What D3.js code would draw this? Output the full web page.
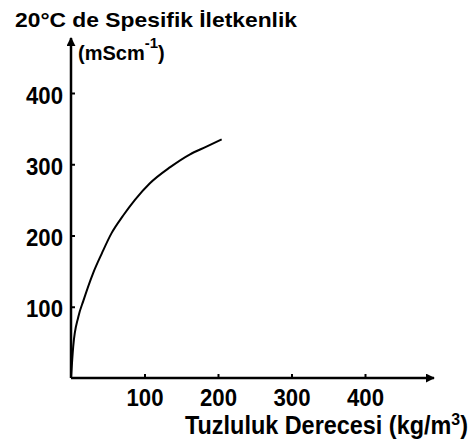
<!DOCTYPE html>
<html><head><meta charset="utf-8">
<script src="https://cdn.jsdelivr.net/npm/d3@7/dist/d3.min.js"></script>
<style>body{margin:0;background:#fff}svg{display:block}text{font-family:"Liberation Sans",Arial,sans-serif;font-weight:bold;fill:#000}</style>
</head><body><svg id="c" width="472" height="440"></svg>
<script>
const salinity = [0, 3, 10, 17, 30, 42, 55, 71, 87, 107, 135, 162, 185, 205];
const conductivity = [0, 44, 86, 109, 147, 175, 203, 228, 250, 273, 296, 314, 325, 335];
const xTicks = [100, 200, 300, 400];
const yTicks = [100, 200, 300, 400];
const titleText = "20°C de Spesifik İletkenlik";
const yUnit = "(mScm";
const xLabel = "Tuzluluk Derecesi (kg/m";

const svg = d3.select("#c");
const x = d3.scaleLinear().domain([0, 400]).range([71, 365]);
const y = d3.scaleLinear().domain([0, 400]).range([378, 93]);

const defs = svg.append("defs");
defs.append("marker").attr("id","arr").attr("viewBox","0 0 10 10").attr("refX",9).attr("refY",5)
  .attr("markerWidth",9).attr("markerHeight",9).attr("orient","auto").attr("markerUnits","userSpaceOnUse")
  .append("path").attr("d","M0,0L10,5L0,10Z").attr("fill","#000");

// axes lines with arrows
svg.append("line").attr("x1",x(0)).attr("y1",y(0)).attr("x2",x(0)).attr("y2",38)
  .attr("stroke","#000").attr("stroke-width",2.5).attr("marker-end","url(#arr)");
svg.append("line").attr("x1",x(0)).attr("y1",y(0)).attr("x2",434).attr("y2",y(0))
  .attr("stroke","#000").attr("stroke-width",2.5).attr("marker-end","url(#arr)");

const gy = svg.append("g").attr("transform",`translate(${x(0)},0)`)
  .call(d3.axisLeft(y).tickValues(yTicks).tickSizeInner(-4).tickSizeOuter(0).tickPadding(8));
gy.select(".domain").remove();
gy.selectAll(".tick line").attr("stroke","#000").attr("stroke-width",2);
gy.selectAll(".tick text").attr("font-size",24).attr("font-family",null).attr("dy","0.42em")
  .attr("textLength",37).attr("lengthAdjust","spacingAndGlyphs");

const gx = svg.append("g").attr("transform",`translate(0,${y(0)})`)
  .call(d3.axisBottom(x).tickValues(xTicks).tickSizeInner(-4).tickSizeOuter(0).tickPadding(11));
gx.select(".domain").remove();
gx.selectAll(".tick line").attr("stroke","#000").attr("stroke-width",2);
gx.selectAll(".tick text").attr("font-size",24).attr("font-family",null)
  .attr("textLength",37).attr("lengthAdjust","spacingAndGlyphs");

// curve
const pts = salinity.map((s,i)=>[s, conductivity[i]]);
svg.append("path").datum(pts)
  .attr("d", d3.line().x(d=>x(d[0])).y(d=>y(d[1])).curve(d3.curveMonotoneX))
  .attr("fill","none").attr("stroke","#000").attr("stroke-width",2);

// title
svg.append("text").attr("x",15).attr("y",27).attr("font-size",21)
  .attr("textLength",282).attr("lengthAdjust","spacingAndGlyphs").text(titleText);

// y unit
const yu = svg.append("text").attr("x",78).attr("y",60).attr("font-size",20);
yu.append("tspan").text(yUnit);
yu.append("tspan").attr("dy",-12).attr("font-size",15).text("-1");
yu.append("tspan").attr("dy",12).text(")");

// x label, condensed by a horizontal scale to the reference width
const xl = svg.append("text").attr("x",0).attr("y",0).attr("font-size",25);
xl.append("tspan").text(xLabel);
xl.append("tspan").attr("dy",-9).attr("font-size",17).text("3");
xl.append("tspan").attr("dy",9).text(")");
const w = xl.node().getBBox().width;
xl.attr("transform",`translate(185,434) scale(${283 / w},1)`);
</script></body></html>
